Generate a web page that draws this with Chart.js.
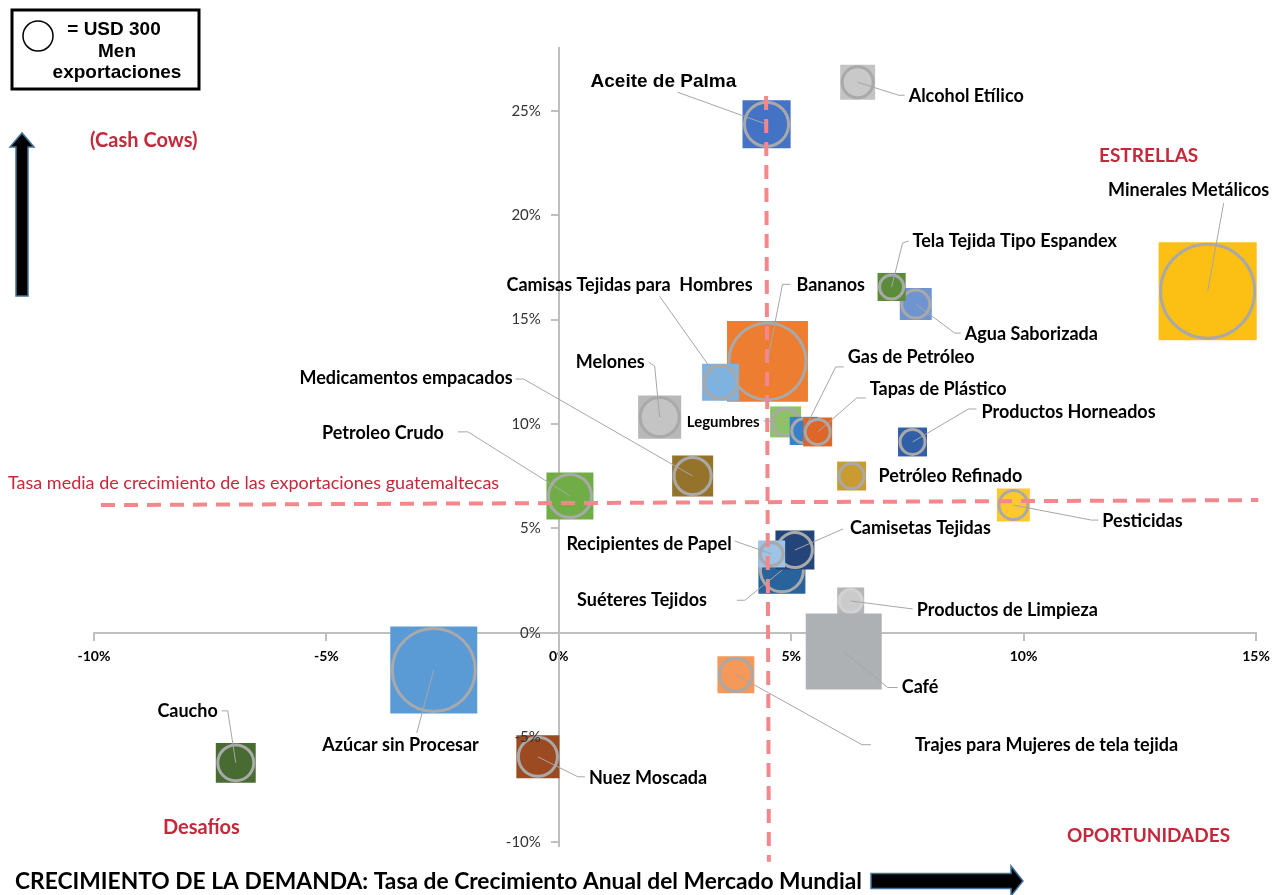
<!DOCTYPE html>
<html>
<head>
<meta charset="utf-8">
<script src="https://cdn.jsdelivr.net/npm/chart.js@4.4.1/dist/chart.umd.min.js"></script>
<style>
  html, body { margin: 0; padding: 0; background: #fff; }
  #wrap { width: 1282px; height: 895px; }
</style>
</head>
<body>
<div id="wrap"><canvas id="matriz" width="1282" height="895"></canvas></div>
<script>
// productos, en el orden en que se apilan (los últimos quedan encima)
const productos = [
  'Caucho', 'Azúcar sin Procesar', 'Nuez Moscada', 'Trajes para Mujeres de tela tejida',
  'Productos de Limpieza', 'Café', 'Suéteres Tejidos', 'Camisetas Tejidas', 'Recipientes de Papel',
  'Petroleo Crudo', 'Medicamentos empacados', 'Melones', 'Bananos', 'Camisas Tejidas para  Hombres',
  'Legumbres', 'Gas de Petróleo', 'Tapas de Plástico', 'Productos Horneados', 'Petróleo Refinado',
  'Pesticidas', 'Agua Saborizada', 'Tela Tejida Tipo Espandex', 'Minerales Metálicos',
  'Aceite de Palma', 'Alcohol Etílico'
];
// crecimiento anual del mercado mundial (%)
const crecimientoMundial = [
  -6.95, -2.69, -0.45, 3.81, 6.28, 6.13, 4.80, 5.08, 4.58, 0.24, 2.88, 2.17, 4.49, 3.48,
  4.88, 5.27, 5.57, 7.61, 6.30, 9.78, 7.68, 7.16, 13.96, 4.47, 6.43
];
// crecimiento de las exportaciones guatemaltecas (%)
const crecimientoExport = [
  -6.22, -1.77, -5.93, -2.00, 1.53, -0.89, 3.00, 3.97, 3.78, 6.56, 7.51, 10.33, 13.00, 12.00,
  10.10, 9.67, 9.62, 9.14, 7.51, 6.12, 15.74, 16.56, 16.36, 24.35, 26.36
];
// exportaciones en millones de USD
const exportaciones = [
  505, 2465, 590, 430, 225, 1875, 705, 480, 225, 705, 535, 590, 2130, 430,
  300, 245, 260, 260, 260, 340, 320, 245, 3140, 740, 385
];
const colorCuadro = [
  '#476B30', '#5B9BD5', '#9C4A22', '#F4995A', '#B3B6B9', '#AEB1B4', '#28649B', '#23457A', '#9DC3E6',
  '#70AD47', '#96732A', '#B8B8B8', '#ED7D31', '#7EB2E0', '#8DC26A', '#3880C8', '#DE6628', '#305FA8',
  '#C99B31', '#FEC830', '#7094D0', '#5B8C3A', '#FCBF14', '#4472C4', '#C3C3C3'
];
const colorCirculo = colorCuadro.map((c, i) => ({4: '#CBCBCB', 11: '#C4C4C4', 24: '#C9C9C9'}[i] || c));
const colorAro = colorCuadro.map((c, i) => ({4: '#D2D2D2', 5: '#AEB1B4'}[i] || '#A9A9A9'));

const ticksX = [-10, -5, 0, 5, 10, 15];
const ticksY = [-10, -5, 0, 5, 10, 15, 20, 25];

// líneas de referencia
const promedioExport = [{x: -9.85, y: 6.12}, {x: 15.05, y: 6.36}];
const promedioMundial = [{x: 4.46, y: 25.7}, {x: 4.52, y: -10.95}];

// etiqueta: [dx, dy, alineación] respecto al centro; guía: puntos desde el texto hasta la burbuja
const etiqueta = [
  [-18, -52, 'right'], [45, 75, 'right'], [51, 21, 'left'], [179, 70, 'left'], [66, 9, 'left'],
  [58, 36, 'left'], [-75, 30, 'right'], [55, -22, 'left'], [-40, -10, 'right'], [-126, -63, 'right'],
  [-180, -98, 'right'], [-15, -55, 'right'], [29, -76, 'left'], [32, -97, 'right'], [-26, 0, 'right'],
  [44, -74, 'left'], [52, -43, 'left'], [69, -30, 'left'], [27, 0, 'left'], [89, 16, 'left'],
  [49, 30, 'left'], [21, -46, 'left'], [-19, -101, 'center'], [-176, -42, 'left'], [51, 14, 'left']
];
const guia = [
  [[-14, -52], [-8, -52]], [[-17, 63]], [[47, 20], [40, 20]], [[135, 70], [126, 70]], [[62, 8]],
  [[54, 36], [44, 36]], [[-45, 30], [-37, 30]], [[48, -21]], [[-37, -13]], [[-112, -64], [-102, -64]],
  [[-177, -97], [-169, -97]], [[-11, -55], [-5, -51]], [[23, -77], [15, -77]], [[-61, -86]], [[-22, -1]],
  [[40, -64], [32, -64]], [[48, -34], [39, -34]], [[64, -33], [56, -33]], [], [[85, 15], [78, 15]],
  [[45, 29], [39, 29]], [[17, -46], [11, -44]], [[16, -88]], [[-89, -32]], [[47, 13], [41, 13]]
];

const ROJO = '#C5283A';
const FUENTE = '"Lato", "Open Sans", sans-serif';
const ARIAL = '"Liberation Sans", Arial, sans-serif';

// radio exterior: el círculo de la leyenda (r = 15 px) equivale a USD 300 millones
const radioExterior = v => 15 * Math.sqrt(v / 300);

const burbujas = productos.map((nombre, i) => {
  const R = radioExterior(exportaciones[i]);
  const punto = {x: crecimientoMundial[i], y: crecimientoExport[i]};
  return {
    type: 'bubble',
    label: nombre,
    data: [
      {...punto, r: (R + 0.5) / Math.SQRT1_2},
      {...punto, r: R - 1.5}
    ],
    pointStyle: ['rect', 'circle'],
    backgroundColor: [colorCuadro[i], colorCirculo[i]],
    borderColor: ['rgba(0,0,0,0)', colorAro[i]],
    borderWidth: [0, 3],
    order: productos.length - i + 1,
    clip: false
  };
});

const lineaDiscontinua = data => ({
  type: 'line',
  data,
  borderColor: '#F4878B',
  borderWidth: 4,
  borderDash: [14, 9],
  pointRadius: 0,
  fill: false,
  order: 0,
  clip: false
});

const flechaDerecha = (ctx, x0, x1, y, alto, punta) => {
  ctx.beginPath();
  ctx.moveTo(x0, y - alto / 2);
  ctx.lineTo(x1 - punta, y - alto / 2);
  ctx.lineTo(x1 - punta, y - alto);
  ctx.lineTo(x1, y);
  ctx.lineTo(x1 - punta, y + alto);
  ctx.lineTo(x1 - punta, y + alto / 2);
  ctx.lineTo(x0, y + alto / 2);
  ctx.closePath();
  ctx.fillStyle = '#000';
  ctx.fill();
  ctx.strokeStyle = '#41719C';
  ctx.lineWidth = 1.5;
  ctx.stroke();
};

const decoracion = {
  id: 'decoracion',
  afterDatasetsDraw(chart) {
    const {ctx, scales: {x, y}} = chart;
    ctx.save();

    // etiquetas del eje vertical, a la izquierda de la línea del eje
    const ejeY = x.getPixelForValue(0);
    ctx.fillStyle = '#333';
    ctx.font = '15px ' + FUENTE;
    ctx.textAlign = 'right';
    ctx.textBaseline = 'middle';
    ticksY.forEach(v => ctx.fillText(v + '%', ejeY - 18, y.getPixelForValue(v)));

    // guías y nombres de productos
    productos.forEach((nombre, i) => {
      const cx = x.getPixelForValue(crecimientoMundial[i]);
      const cy = y.getPixelForValue(crecimientoExport[i]);
      if (guia[i].length) {
        ctx.beginPath();
        guia[i].forEach(([dx, dy], k) => k ? ctx.lineTo(cx + dx, cy + dy) : ctx.moveTo(cx + dx, cy + dy));
        ctx.lineTo(cx, cy);
        ctx.strokeStyle = '#A6A6A6';
        ctx.lineWidth = 1;
        ctx.stroke();
      }
      const [dx, dy, alinea] = etiqueta[i];
      if (nombre === 'Aceite de Palma') ctx.font = 'bold 19px ' + ARIAL;
      else if (nombre === 'Legumbres') ctx.font = 'bold 15px ' + FUENTE;
      else ctx.font = 'bold 18px ' + FUENTE;
      ctx.fillStyle = '#000';
      ctx.textAlign = alinea;
      ctx.fillText(nombre, cx + dx, cy + dy);
    });

    // cuadrantes
    ctx.fillStyle = ROJO;
    ctx.textAlign = 'left';
    ctx.font = 'bold 20px ' + FUENTE;
    ctx.fillText('(Cash Cows)', 90, 141);
    ctx.fillText('Desafíos', 163, 828);
    ctx.font = 'bold 19px ' + FUENTE;
    ctx.fillText('ESTRELLAS', 1099, 156);
    ctx.fillText('OPORTUNIDADES', 1067, 836);
    ctx.font = '18px ' + FUENTE;
    ctx.fillText('Tasa media de crecimiento de las exportaciones guatemaltecas', 8, 483, 500);

    // título del eje horizontal y flechas
    ctx.fillStyle = '#000';
    ctx.font = 'bold 23px ' + FUENTE;
    ctx.fillText('CRECIMIENTO DE LA DEMANDA: Tasa de Crecimiento Anual del Mercado Mundial', 15, 882, 847);
    flechaDerecha(ctx, 871, 1023, 881, 15, 12);
    ctx.save();
    ctx.translate(22, 296);
    ctx.rotate(-Math.PI / 2);
    flechaDerecha(ctx, 0, 163, 0, 12, 14);
    ctx.restore();

    // leyenda de tamaño
    ctx.lineWidth = 3;
    ctx.strokeStyle = '#000';
    ctx.strokeRect(12, 10, 187, 79);
    ctx.lineWidth = 1.5;
    ctx.beginPath();
    ctx.arc(38, 36, 15, 0, Math.PI * 2);
    ctx.stroke();
    ctx.fillStyle = '#000';
    ctx.font = 'bold 19px ' + ARIAL;
    ctx.textAlign = 'center';
    ctx.fillText('= USD 300', 114, 30);
    ctx.fillText('Men', 117, 52);
    ctx.fillText('exportaciones', 117, 73);

    ctx.restore();
  }
};

new Chart(document.getElementById('matriz'), {
  type: 'bubble',
  data: {
    datasets: [
      lineaDiscontinua(promedioExport),
      lineaDiscontinua(promedioMundial),
      ...burbujas
    ]
  },
  options: {
    responsive: false,
    animation: false,
    events: [],
    layout: {autoPadding: false, padding: {left: 94, right: 26, top: 48, bottom: 49}},
    plugins: {legend: {display: false}, tooltip: {enabled: false}},
    scales: {
      x: {
        type: 'linear',
        min: -10, max: 15,
        position: {y: 0},
        afterBuildTicks: s => { s.ticks = ticksX.map(v => ({value: v})); },
        border: {color: '#BFBFBF', width: 2},
        grid: {drawOnChartArea: false, color: '#BFBFBF', tickLength: 7, lineWidth: 2},
        ticks: {
          callback: v => v + '%',
          color: '#000',
          padding: 8,
          maxRotation: 0,
          font: {family: FUENTE, size: 14, weight: 'bold'}
        }
      },
      y: {
        type: 'linear',
        min: -10.2, max: 28,
        position: {x: 0},
        afterBuildTicks: s => { s.ticks = ticksY.map(v => ({value: v})); },
        border: {color: '#BFBFBF', width: 2},
        grid: {drawOnChartArea: false, color: '#BFBFBF', tickLength: 7, lineWidth: 2},
        ticks: {display: false}
      }
    }
  },
  plugins: [decoracion]
});
</script>
</body>
</html>
